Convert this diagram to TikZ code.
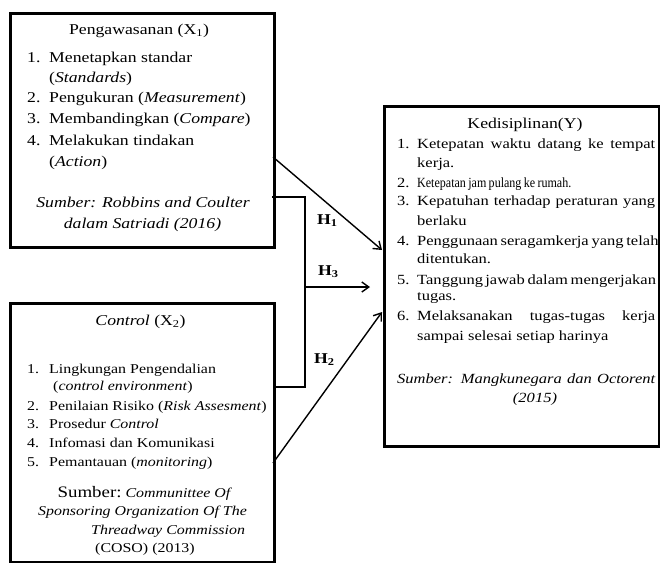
\documentclass[tikz,border=0pt]{standalone}
\usepackage{fontspec}
\setmainfont{Liberation Serif}[FakeStretch=1.18]
\newfontfamily\condfont{Liberation Serif}[FakeStretch=0.86]
\usetikzlibrary{arrows.meta}
\newcommand{\szA}{\fontsize{15}{18}\selectfont}
\newcommand{\szB}{\fontsize{13.5}{16}\selectfont}
\newcommand{\szC}{\fontsize{14}{16}\selectfont}
\tikzset{
  txt/.style={inner sep=0pt, anchor=base west},
  ctxt/.style={inner sep=0pt, anchor=base},
  box/.style={draw, line width=2.8pt, inner sep=0pt, anchor=north west},
  link/.style={line width=2pt},
  arr/.style={line width=1.4pt, -{Straight Barb[length=7pt,width=10pt,line width=1.4pt]}},
  hlab/.style={inner sep=0pt, anchor=base west, font=\szA\bfseries}
}
\begin{document}
\begin{tikzpicture}[x=1pt,y=-1pt]
\useasboundingbox (0,0) rectangle (660,562);
% boxes
\node[box, minimum width=264pt, minimum height=234pt] (x1) at (9,12) {};
\node[box, minimum width=264pt, minimum height=259pt] (x2) at (9,302) {};
\node[box, minimum width=275pt, minimum height=340pt] (y) at (383,105) {};

% X1 text
\node[ctxt, font=\szA] (x1t) at (139,34) {Pengawasanan (X\textsubscript{1})};
\node[txt, font=\szA] (a1n) at (27,62) {1.};
\node[txt, font=\szA] (a1) at (49,62) {Menetapkan standar};
\node[txt, font=\szA] (a1b) at (49,82) {(\textit{Standards})};
\node[txt, font=\szA] (a2n) at (27,102) {2.};
\node[txt, font=\szA] (a2) at (49,102) {Pengukuran (\textit{Measurement})};
\node[txt, font=\szA] (a3n) at (27,123) {3.};
\node[txt, font=\szA] (a3) at (49,123) {Membandingkan (\textit{Compare})};
\node[txt, font=\szA] (a4n) at (27,145) {4.};
\node[txt, font=\szA] (a4) at (49,145) {Melakukan tindakan};
\node[txt, font=\szA] (a4b) at (49,166) {(\textit{Action})};
\node[ctxt, font=\szA\itshape] (s1a) at (143,207) {Sumber: Robbins and Coulter};
\node[ctxt, font=\szA\itshape] (s1b) at (142.5,228) {dalam Satriadi (2016)};

% X2 text
\node[ctxt, font=\szA] (x2t) at (140.5,325) {\textit{Control} (X\textsubscript{2})};
\node[txt, font=\szB] (b1n) at (27,373) {1.};
\node[txt, font=\szB] (b1) at (49,373) {Lingkungan Pengendalian};
\node[txt, font=\szB] (b1b) at (53,390) {(\textit{control environment})};
\node[txt, font=\szB] (b2n) at (27,410) {2.};
\node[txt, font=\szB] (b2) at (49,410) {Penilaian Risiko (\textit{Risk Assesment})};
\node[txt, font=\szB] (b3n) at (27,428) {3.};
\node[txt, font=\szB] (b3) at (49,428) {Prosedur \textit{Control}};
\node[txt, font=\szB] (b4n) at (27,447) {4.};
\node[txt, font=\szB] (b4) at (49,447) {Infomasi dan Komunikasi};
\node[txt, font=\szB] (b5n) at (27,466) {5.};
\node[txt, font=\szB] (b5) at (49,466) {Pemantauan (\textit{monitoring})};
\node[ctxt] (s2a) at (144,497) {{\fontsize{16}{18}\selectfont Sumber:} {\szB\itshape Communittee Of}};
\node[ctxt, font=\szB\itshape] (s2b) at (142.5,515) {Sponsoring Organization Of The};
\node[txt, font=\szB\itshape] (s2c) at (91,534) {Threadway Commission};
\node[txt, font=\szB] (s2d) at (95,552) {(COSO) (2013)};

% Y text
\node[ctxt, font=\szA] (yt) at (525,128) {Kedisiplinan(Y)};
\node[txt, font=\szC] (c1n) at (397,148) {1.};
\node[txt, font=\szC] (c1) at (417,148) {\makebox[238pt][s]{Ketepatan waktu datang ke tempat}};
\node[txt, font=\szC] (c1b) at (417,167) {kerja.};
\node[txt, font=\szC] (c2n) at (397,187) {2.};
\node[txt, font=\condfont\szC] (c2) at (417,187) {Ketepatan\,jam\,pulang\,ke\,rumah.};
\node[txt, font=\szC] (c3n) at (397,205) {3.};
\node[txt, font=\szC] (c3) at (417,205) {\makebox[238pt][s]{Kepatuhan terhadap peraturan yang}};
\node[txt, font=\szC] (c3b) at (417,225) {berlaku};
\node[txt, font=\szC] (c4n) at (397,245) {4.};
\node[txt, font=\szC] (c4) at (417,245) {\makebox[238pt][s]{Penggunaan seragamkerja yang telah}};
\node[txt, font=\szC] (c4b) at (417,263) {ditentukan.};
\node[txt, font=\szC] (c5n) at (397,284) {5.};
\node[txt, font=\szC] (c5) at (417,284) {\makebox[238pt][s]{Tanggung\,jawab dalam mengerjakan}};
\node[txt, font=\szC] (c5b) at (417,300) {tugas.};
\node[txt, font=\szC] (c6n) at (397,320) {6.};
\node[txt, font=\szC] (c6) at (417,320) {\makebox[238pt][s]{Melaksanakan tugas-tugas kerja}};
\node[txt, font=\szC] (c6b) at (417,340) {sampai selesai setiap harinya};
\node[txt, font=\szC\itshape] (s3a) at (397,383) {\makebox[258pt][s]{Sumber: Mangkunegara dan Octorent}};
\node[ctxt, font=\szC\itshape] (s3b) at (535,402) {(2015)};

% connectors
\coordinate (k1) at (272,197);
\coordinate (k2) at (305,197);
\coordinate (k3) at (305,387);
\coordinate (k4) at (274,387);
\coordinate (k5) at (305,287);
\coordinate (k6) at (370,287);
\draw[link] (k1) -- (k2) -- (k3) -- (k4);
\draw[arr] (k5) -- (k6);
\coordinate (h1s) at (273,157);
\coordinate (h1e) at (382,250);
\coordinate (h2s) at (273,463);
\coordinate (h2e) at (382,312);
\draw[arr] (h1s) -- (h1e);
\draw[arr] (h2s) -- (h2e);

% hypothesis labels
\node[hlab] (H1) at (317,224) {H\textsubscript{1}};
\node[hlab] (H3) at (318,275) {H\textsubscript{3}};
\node[hlab] (H2) at (314,363) {H\textsubscript{2}};
\end{tikzpicture}
\end{document}
